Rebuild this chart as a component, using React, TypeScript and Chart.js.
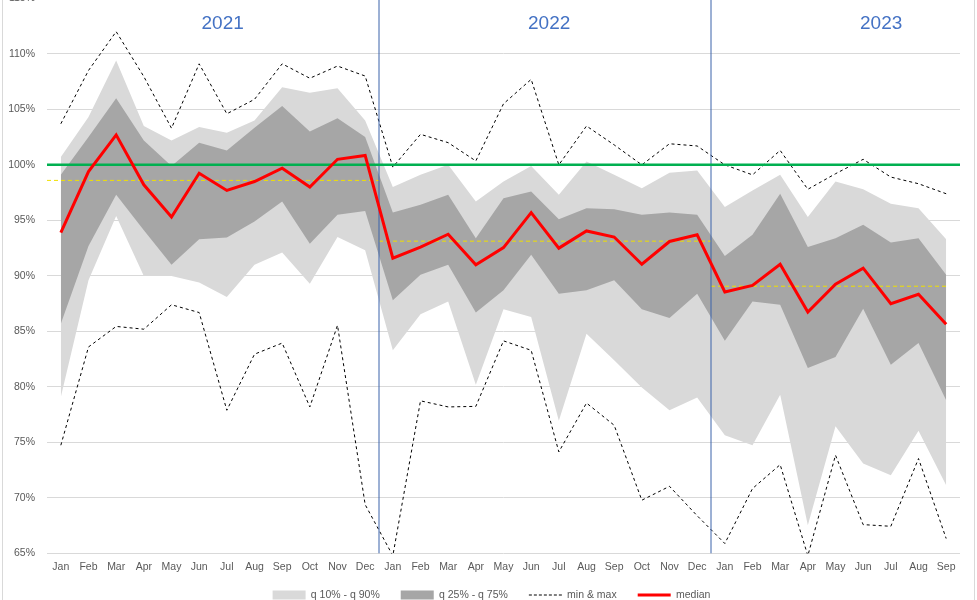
import React, { useEffect, useRef } from 'react';
import { Chart, registerables } from 'chart.js';

Chart.register(...registerables);

const FONT = '"Liberation Sans", Arial, sans-serif';

const months = [
  'Jan', 'Feb', 'Mar', 'Apr', 'May', 'Jun', 'Jul', 'Aug', 'Sep', 'Oct', 'Nov', 'Dec',
  'Jan', 'Feb', 'Mar', 'Apr', 'May', 'Jun', 'Jul', 'Aug', 'Sep', 'Oct', 'Nov', 'Dec',
  'Jan', 'Feb', 'Mar', 'Apr', 'May', 'Jun', 'Jul', 'Aug', 'Sep',
];

const median = [
  93.9, 99.4, 102.7, 98.2, 95.3, 99.25, 97.7, 98.5, 99.7, 98.0, 100.5, 100.85,
  91.6, 92.6, 93.75, 91.0, 92.55, 95.7, 92.5, 94.05, 93.5, 91.05, 93.1, 93.7,
  88.55, 89.15, 91.05, 86.75, 89.25, 90.7, 87.5, 88.35, 85.65,
];

const maxValues = [
  103.7, 108.5, 112.0, 107.95, 103.3, 109.1, 104.6, 105.9, 109.1, 107.8, 108.9, 108.0,
  99.8, 102.75, 102.0, 100.35, 105.5, 107.7, 100.0, 103.5, 101.8, 100.0, 101.9, 101.7,
  100.0, 99.1, 101.3, 97.8, 99.2, 100.5, 98.9, 98.3, 97.4,
];

const minValues = [
  74.75, 83.6, 85.45, 85.2, 87.4, 86.7, 77.9, 82.95, 83.95, 78.2, 85.55, 69.4,
  64.8, 78.75, 78.2, 78.25, 84.15, 83.3, 74.15, 78.55, 76.55, 69.8, 71.05, 68.4,
  65.9, 70.85, 73.0, 64.8, 73.85, 67.6, 67.45, 73.55, 66.35,
];

const q90 = [
  100.7, 104.3, 109.4, 103.5, 102.2, 103.4, 102.9, 104.0, 107.0, 106.5, 106.9, 104.0,
  98.0, 99.1, 100.0, 96.7, 98.5, 99.9, 97.3, 100.3, 99.1, 97.9, 99.3, 99.5,
  96.2, 97.7, 99.1, 95.3, 98.5, 97.8, 96.5, 96.1, 93.3,
];

const q75 = [
  99.1, 102.5, 106.0, 102.2, 99.9, 102.0, 101.3, 103.35, 105.3, 103.0, 104.2, 102.5,
  95.7, 96.4, 97.3, 93.4, 97.0, 97.6, 95.1, 96.1, 96.0, 95.5, 95.7, 95.5,
  91.8, 93.7, 97.4, 92.6, 93.4, 94.6, 93.0, 93.4, 90.1,
];

const q25 = [
  85.7, 92.7, 97.3, 94.1, 91.0, 93.3, 93.45, 94.9, 96.7, 92.9, 95.5, 95.85,
  87.8, 90.1, 91.0, 86.7, 88.7, 91.9, 88.4, 88.7, 89.6, 87.0, 86.2, 88.4,
  84.15, 87.7, 87.4, 81.7, 82.7, 87.05, 82.0, 83.95, 78.8,
];

const q10 = [
  79.1, 89.6, 95.4, 90.0, 90.0, 89.4, 88.1, 91.0, 92.1, 89.3, 93.5, 92.3,
  83.3, 86.55, 87.7, 80.2, 87.0, 86.3, 76.95, 84.8, 82.4, 79.95, 77.9, 79.05,
  75.65, 74.75, 79.3, 67.55, 76.45, 73.1, 72.05, 76.05, 71.15,
];

const years = ['2021', '2022', '2023'];
const yearMeans = [98.6, 93.13, 89.07];
const yearMeanStart = [-0.5, 11.5, 23.5];
const yearMeanEnd = [11.5, 23.5, 32];
const yearDividers = [11.5, 23.5];
const targetLevel = 100;
const yTicksMin = 65;
const yTicksMax = 115;

const yearLabelPlugin = {
  id: 'yearLabels',
  afterDatasetsDraw(chart: any) {
    const { ctx, scales } = chart;
    const xs = scales.xl;
    const ys = scales.y;
    const at = [5.85, 17.65, 29.65];
    ctx.save();
    ctx.font = `19px ${FONT}`;
    ctx.fillStyle = '#4472C4';
    ctx.textAlign = 'center';
    ctx.textBaseline = 'middle';
    years.forEach((t, i) => {
      ctx.fillText(t, xs.getPixelForValue(at[i]), ys.getPixelForValue(112.7));
    });
    ctx.restore();
  },
};

const legendPlacePlugin = {
  id: 'legendPlace',
  afterLayout(chart: any) {
    const lg = chart.legend;
    if (!lg) return;
    const h = lg.height;
    lg.left = 23;
    lg.top = 588.75;
    lg.bottom = lg.top + h;
  },
};

export default function App() {
  const ref = useRef<HTMLCanvasElement | null>(null);

  useEffect(() => {
    if (!ref.current) return;
    const meanSets = yearMeans.map((m, i) => ({
      label: 'mean ' + years[i],
      xAxisID: 'xl',
      data: [
        { x: yearMeanStart[i], y: m },
        { x: yearMeanEnd[i], y: m },
      ],
      borderColor: '#f0e000',
      borderWidth: 1,
      borderDash: [4, 3],
      pointRadius: 0,
      fill: false,
      order: 5,
    }));
    const dividerSets = yearDividers.map((d) => ({
      label: 'div',
      xAxisID: 'xl',
      data: [
        { x: d, y: yTicksMin },
        { x: d, y: yTicksMax },
      ],
      borderColor: '#3a62aa',
      borderWidth: 1,
      pointRadius: 0,
      fill: false,
      order: 4,
    }));

    const chart = new Chart(ref.current, {
      type: 'line',
      data: {
        labels: months,
        datasets: [
          {
            label: 'q10',
            xAxisID: 'x',
            data: q10,
            borderColor: 'rgba(0,0,0,0)',
            borderWidth: 0,
            pointRadius: 0,
            fill: false,
            order: 20,
          },
          {
            label: 'q90',
            xAxisID: 'x',
            data: q90,
            borderColor: 'rgba(0,0,0,0)',
            borderWidth: 0,
            backgroundColor: '#d9d9d9',
            pointRadius: 0,
            fill: 0,
            order: 19,
          },
          {
            label: 'q25',
            xAxisID: 'x',
            data: q25,
            borderColor: 'rgba(0,0,0,0)',
            borderWidth: 0,
            pointRadius: 0,
            fill: false,
            order: 18,
          },
          {
            label: 'q75',
            xAxisID: 'x',
            data: q75,
            borderColor: 'rgba(0,0,0,0)',
            borderWidth: 0,
            backgroundColor: '#a6a6a6',
            pointRadius: 0,
            fill: 2,
            order: 17,
          },
          {
            label: 'max',
            xAxisID: 'x',
            data: maxValues,
            borderColor: '#000000',
            borderWidth: 1,
            borderDash: [3, 3],
            pointRadius: 0,
            fill: false,
            order: 6,
          },
          {
            label: 'min',
            xAxisID: 'x',
            data: minValues,
            borderColor: '#000000',
            borderWidth: 1,
            borderDash: [3, 3],
            pointRadius: 0,
            fill: false,
            order: 6,
          },
          ...meanSets,
          ...dividerSets,
          {
            label: 'target',
            xAxisID: 'xl',
            data: [
              { x: -0.5, y: targetLevel },
              { x: 32.5, y: targetLevel },
            ],
            borderColor: '#00B050',
            borderWidth: 2.5,
            pointRadius: 0,
            fill: false,
            order: 2,
          },
          {
            label: 'median',
            xAxisID: 'x',
            data: median,
            borderColor: '#FF0000',
            borderWidth: 3,
            pointRadius: 0,
            fill: false,
            order: 1,
          },
        ] as any,
      },
      options: {
        responsive: false,
        animation: false,
        events: [],
        layout: { padding: { left: 0, right: 17, top: 18, bottom: 0 } },
        elements: { line: { tension: 0 } },
        scales: {
          x: {
            type: 'category',
            offset: true,
            grid: { display: false, drawTicks: false },
            border: { display: false },
            ticks: {
              color: '#595959',
              font: { family: FONT, size: 10.5 },
              padding: 7,
              maxRotation: 0,
              autoSkip: false,
            },
            afterFit: (s: any) => {
              s.height = 22;
            },
          },
          xl: {
            type: 'linear',
            display: false,
            min: -0.5,
            max: 32.5,
          },
          y: {
            min: yTicksMin,
            max: yTicksMax,
            ticks: {
              stepSize: 5,
              callback: (v: any) => v + '%',
              color: '#595959',
              font: { family: FONT, size: 10.5 },
              padding: 12,
            },
            grid: { color: '#d9d9d9', drawTicks: false },
            border: { display: false },
            afterFit: (s: any) => {
              s.width = 47;
            },
          },
        },
        plugins: {
          tooltip: { enabled: false },
          legend: {
            position: 'bottom',
            onClick: () => {},
            labels: {
              usePointStyle: true,
              pointStyleWidth: 33,
              boxWidth: 33,
              boxHeight: 9,
              padding: 21,
              color: '#595959',
              font: { family: FONT, size: 10.5 },
              generateLabels: () => [
                {
                  text: 'q 10% - q 90%',
                  fillStyle: '#d9d9d9',
                  strokeStyle: '#d9d9d9',
                  lineWidth: 0,
                  pointStyle: 'rect',
                  hidden: false,
                  fontColor: '#595959',
                },
                {
                  text: 'q 25% - q 75%',
                  fillStyle: '#a6a6a6',
                  strokeStyle: '#a6a6a6',
                  lineWidth: 0,
                  pointStyle: 'rect',
                  hidden: false,
                  fontColor: '#595959',
                },
                {
                  text: 'min & max',
                  fillStyle: 'rgba(0,0,0,0)',
                  strokeStyle: '#000000',
                  lineWidth: 1,
                  lineDash: [3, 2],
                  pointStyle: 'line',
                  hidden: false,
                  fontColor: '#595959',
                },
                {
                  text: 'median',
                  fillStyle: 'rgba(0,0,0,0)',
                  strokeStyle: '#FF0000',
                  lineWidth: 3,
                  pointStyle: 'line',
                  hidden: false,
                  fontColor: '#595959',
                },
              ],
            },
          },
        },
      } as any,
      plugins: [yearLabelPlugin, legendPlacePlugin],
    });
    return () => chart.destroy();
  }, []);

  return (
    <div
      style={{
        position: 'fixed',
        left: 0,
        top: 0,
        width: 977,
        height: 600,
        overflow: 'hidden',
        background: '#ffffff',
      }}
    >
      <canvas
        ref={ref}
        width={977}
        height={637}
        style={{ position: 'absolute', left: 0, top: -20, width: 977, height: 637 }}
      />
      <div
        style={{
          position: 'absolute',
          left: 2,
          top: 0,
          width: 971,
          height: 600,
          borderLeft: '1px solid #d9d9d9',
          borderRight: '1px solid #d9d9d9',
          pointerEvents: 'none',
        }}
      />
    </div>
  );
}
